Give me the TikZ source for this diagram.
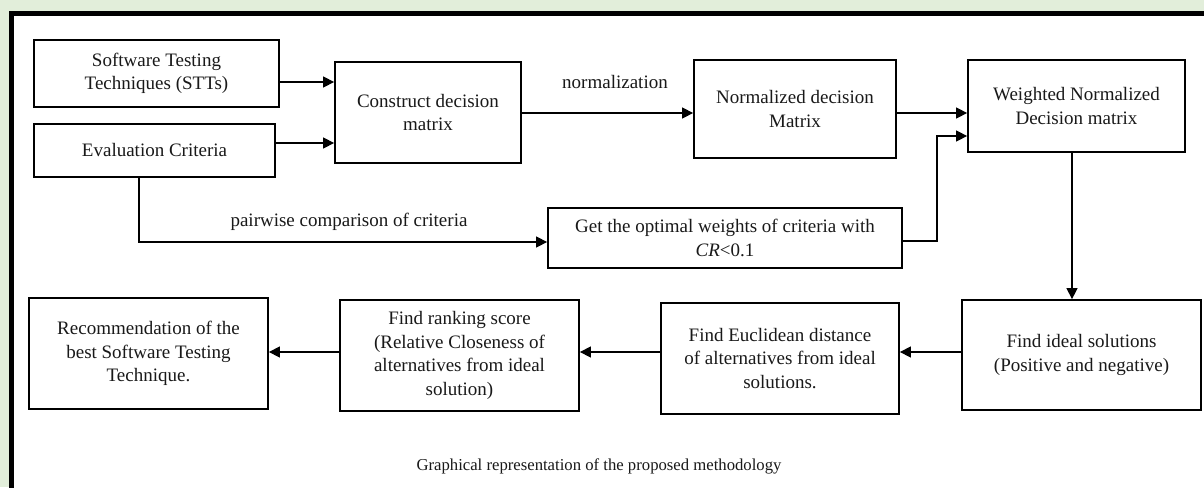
\documentclass[tikz,border=0pt]{standalone}
\usepackage{fontspec}
\setmainfont{Liberation Serif}
\usetikzlibrary{arrows.meta}
\definecolor{bggreen}{RGB}{226,238,218}
\tikzset{
  boxnode/.style={draw=black, line width=1.8pt, inner sep=0pt, align=center,
    font=\fontsize{19}{23.5}\selectfont, text=black!90},
  arr/.style={line width=1.4pt, -{Triangle[length=11pt,width=11pt]}},
  lbl/.style={font=\fontsize{19}{22}\selectfont, text=black!90, inner sep=0pt}
}
\begin{document}
\begin{tikzpicture}[x=1pt,y=-1pt]
\useasboundingbox (0,0) rectangle (1204,487);
\fill[bggreen] (0,0) rectangle (1204,487);
\fill[white] (11.5,13.5) rectangle (1210,495);
\draw[line width=5pt] (11.5,495) -- (11.5,13.5) -- (1210,13.5);

% top row
\node[boxnode, minimum width=245pt, minimum height=67pt] (stt) at (156.5,73.5) {Software Testing\\Techniques (STTs)};
\node[boxnode, minimum width=241pt, minimum height=53pt] (eval) at (154.5,150.5) {Evaluation Criteria};
\node[boxnode, minimum width=186pt, minimum height=101pt] (cons) at (428,112.5) {Construct decision\\matrix};
\node[boxnode, minimum width=202pt, minimum height=98pt] (norm) at (795,109) {Normalized decision\\Matrix};
\node[boxnode, minimum width=217pt, minimum height=92pt] (wtd) at (1076.5,106) {Weighted Normalized\\Decision matrix};
\node[boxnode, minimum width=354pt, minimum height=60pt] (opt) at (725,238) {Get the optimal weights of criteria with\\\textit{CR}<0.1};

% bottom row
\node[boxnode, minimum width=239pt, minimum height=110pt] (ideal) at (1081.5,355) {Find ideal solutions\\(Positive and negative)};
\node[boxnode, minimum width=238pt, minimum height=111pt] (eucl) at (780,358.5) {Find Euclidean distance\\of alternatives from ideal\\solutions.};
\node[boxnode, minimum width=239pt, minimum height=111pt] (rank) at (459.5,355.5) {Find ranking score\\(Relative Closeness of\\alternatives from ideal\\solution)};
\node[boxnode, minimum width=239pt, minimum height=111pt] (rec) at (148.5,353.5) {Recommendation of the\\best Software Testing\\Technique.};

% labels
\node[lbl] (nlab) at (615,82) {normalization};
\node[lbl] (plab) at (349,222) {pairwise comparison of criteria};
\node[font=\fontsize{16.7}{19}\selectfont, text=black!90, inner sep=0pt] (cap) at (599,466) {Graphical representation of the proposed methodology};

% connectors
\draw[arr] (stt.east |- 0,82) -- (cons.west |- 0,82);
\draw[arr] (eval.east |- 0,143) -- (cons.west |- 0,143);
\draw[arr] (cons.east |- 0,113) -- (norm.west |- 0,113);
\draw[arr] (norm.east |- 0,113) -- (wtd.west |- 0,113);
\draw[arr] (eval.south -| 139,0) -- (139,242) -- (opt.west |- 0,242);
\draw[arr] (opt.east |- 0,241) -- (937,241) -- (937,136) -- (wtd.west |- 0,136);
\draw[arr] (wtd.south -| 1072,0) -- (ideal.north -| 1072,0);
\draw[arr] (ideal.west |- 0,352) -- (eucl.east |- 0,352);
\draw[arr] (eucl.west |- 0,352) -- (rank.east |- 0,352);
\draw[arr] (rank.west |- 0,352) -- (rec.east |- 0,352);
\end{tikzpicture}
\end{document}
